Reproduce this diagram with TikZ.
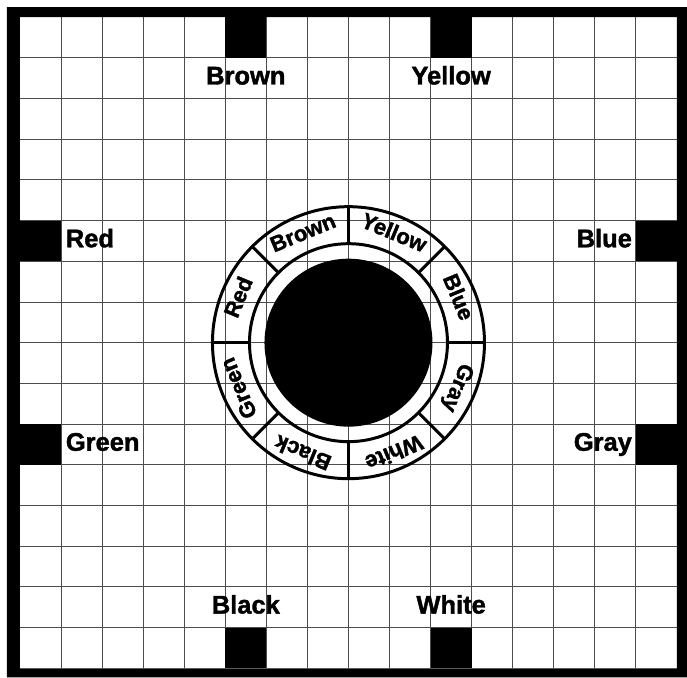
\documentclass[tikz,border=0pt]{standalone}
\usepackage{fontspec}
\setmainfont{Liberation Sans}[BoldFeatures={FakeBold=1.6}]
\begin{document}
\begin{tikzpicture}[x=0.8212cm, y=0.814cm, thick]
  \tikzstyle{doorlabel} = [font=\fontsize{14.5}{16}\selectfont\bfseries, inner sep=0pt, text height=0.72em, text depth=0pt]
  \tikzstyle{ringlabel} = [font=\fontsize{12.5}{14}\selectfont\bfseries, inner sep=0pt, text height=0.72em, text depth=0pt]
  \tikzstyle{gridline} = [line width=0.5pt, black!70]
  \tikzstyle{door} = [fill=black]
  \tikzstyle{ring} = [line width=1.7pt]

  \useasboundingbox (-0.487,-0.221) rectangle (16.245,16.42);

  % floor grid
  \foreach \i in {1,...,15} {
    \draw[gridline] (\i,0) -- (\i,16);
    \draw[gridline] (0,\i) -- (16,\i);
  }

  % outer wall
  \fill[even odd rule] (-0.317,-0.221) rectangle (16.245,16.246) (0,0) rectangle (16,16);

  % doors
  \foreach \c in {5,10} {
    \fill[door] (\c,15) rectangle ++(1,1);
    \fill[door] (\c,0) rectangle ++(1,1);
  }
  \foreach \r in {5,10} {
    \fill[door] (0,\r) rectangle ++(1,1);
    \fill[door] (15,\r) rectangle ++(1,1);
  }

  % door names
  \node[doorlabel] (brown) at (5.5,14.5) {Brown};
  \node[doorlabel] (yellow) at (10.5,14.5) {Yellow};
  \node[doorlabel, anchor=west] (red) at (1.1,10.5) {Red};
  \node[doorlabel, anchor=west] (green) at (1.1,5.5) {Green};
  \node[doorlabel, anchor=east] (blue) at (14.92,10.5) {Blue};
  \node[doorlabel, anchor=east] (gray) at (14.92,5.5) {Gray};
  \node[doorlabel] (black) at (5.5,1.5) {Black};
  \node[doorlabel] (white) at (10.5,1.5) {White};

  % colour wheel
  \begin{scope}[shift={(8,8)}]
    \fill (0,0) circle (1.68cm);
    \draw[ring] (0,0) circle (2.72cm);
    \draw[ring] (0,0) circle (1.98cm);
    \foreach \a in {0,45,...,315}
      \draw[ring] (\a:1.98cm) -- (\a:2.72cm);
    \foreach \a/\name in {22.5/Blue, 67.5/Yellow, 112.5/Brown, 157.5/Red, 202.5/Green, 247.5/Black, 292.5/White, 337.5/Gray}
      \node[ringlabel, rotate=\a-90] (ring\name) at (\a:2.36cm) {\name};
  \end{scope}
\end{tikzpicture}
\end{document}
